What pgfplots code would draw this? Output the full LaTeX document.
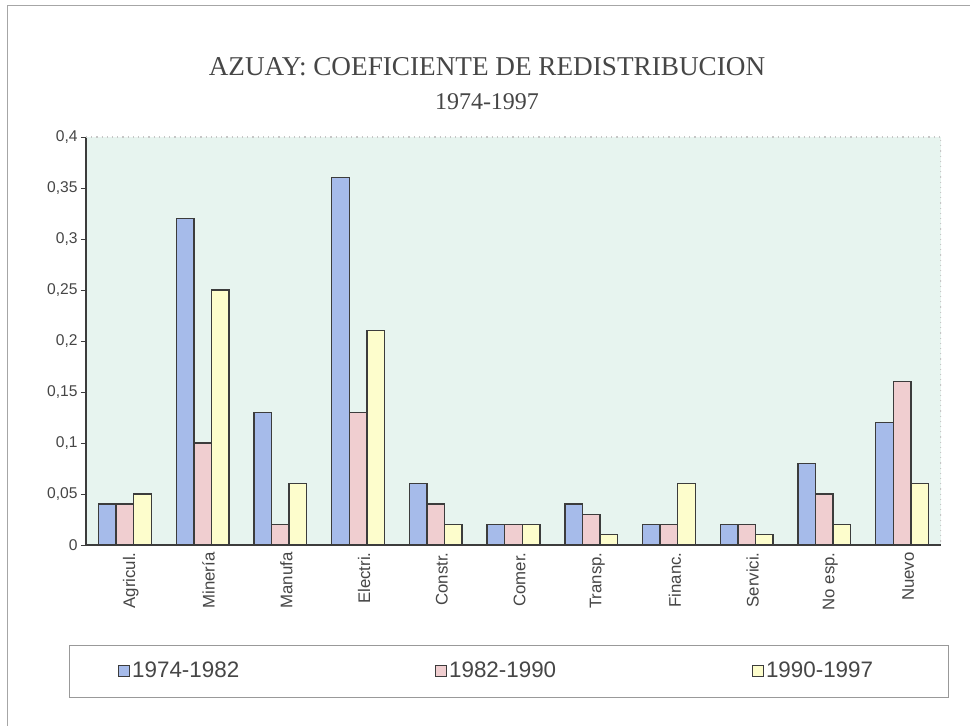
\documentclass[border=0pt]{standalone}
\usepackage{fontspec}
\setmainfont{Liberation Sans}
\newfontfamily\seriffont{Liberation Serif}
\usepackage{pgfplots}
\pgfplotsset{compat=1.18}
\definecolor{bgcol}{RGB}{231,244,239}
\definecolor{cblue}{RGB}{166,187,234}
\definecolor{cpink}{RGB}{240,206,208}
\definecolor{cyell}{RGB}{253,253,204}
\definecolor{edge}{RGB}{60,60,60}
\definecolor{txt}{RGB}{70,70,70}
\begin{document}
\begin{tikzpicture}
\useasboundingbox (-43pt,-90.5pt) rectangle (442pt,272.5pt);
\fill[white] (-43pt,-90.5pt) rectangle (442pt,272.5pt);
\draw[gray!70, line width=0.5pt] (-39pt,-95pt) -- (-39pt,269.5pt) -- (450pt,269.5pt);
\begin{axis}[
  at={(0pt,0pt)}, anchor=south west,
  scale only axis,
  width=427.5pt, height=204pt,
  ybar=0pt,
  bar width=0.226,
  xmin=-0.5, xmax=10.5,
  ymin=0, ymax=0.4,
  ytick={0,0.05,...,0.4},
  xtick={0,...,10},
  xticklabels={Agricul., Minería, Manufa, Electri., Constr., Comer., Transp., Financ., Servici., No esp., Nuevo},
  minor xtick={-0.5,0.5,...,10.5},
  axis x line*=bottom,
  axis y line*=left,
  axis line style={edge, line width=0.6pt, -},
  tick align=outside,
  major tick length=2.5pt,
  minor tick length=2.5pt,
  xtick style={draw=none},
  minor x tick style={edge, line width=0.4pt},
  ytick style={edge, line width=0.4pt},
  axis background/.style={fill=bgcol},
  /pgf/number format/.cd, use comma, fixed, assume math mode=true,
  /pgfplots/.cd,
  yticklabel style={font=\fontsize{7.8}{8.5}\selectfont, text=txt, inner sep=1pt, xshift=-0.5pt},
  xticklabel style={rotate=90, anchor=east, font=\fontsize{8.4}{9}\selectfont, text=txt, inner sep=1pt, yshift=-3pt},
  legend columns=3,
  legend image code/.code={\draw[#1, line width=0.5pt] (0pt,-2.7pt) rectangle (5.4pt,2.7pt);},
  legend style={draw=none, fill=none, at={(rel axis cs:0.0374,-0.309)}, anchor=west,
    font=\fontsize{11.2}{12}\selectfont, text=txt, inner sep=0pt,
    nodes={inner sep=1pt},
    /tikz/every even column/.append style={column sep=97pt}},
  every axis plot/.append style={draw=edge, line width=0.7pt},
]
\addplot[fill=cblue] coordinates {(0,0.04) (1,0.32) (2,0.13) (3,0.36) (4,0.06) (5,0.02) (6,0.04) (7,0.02) (8,0.02) (9,0.08) (10,0.12)};
\addplot[fill=cpink] coordinates {(0,0.04) (1,0.10) (2,0.02) (3,0.13) (4,0.04) (5,0.02) (6,0.03) (7,0.02) (8,0.02) (9,0.05) (10,0.16)};
\addplot[fill=cyell] coordinates {(0,0.05) (1,0.25) (2,0.06) (3,0.21) (4,0.02) (5,0.02) (6,0.01) (7,0.06) (8,0.01) (9,0.02) (10,0.06)};
\legend{1974-1982, 1982-1990, 1990-1997}
\draw[gray!45, dotted, line width=0.6pt] (rel axis cs:0,1) -- (rel axis cs:1,1) -- (rel axis cs:1,0);
\end{axis}
\draw[gray!80, line width=0.5pt] (-8pt,-50.5pt) rectangle (431pt,-76.5pt);
\node[text=txt, font=\seriffont\fontsize{13.6}{15}\selectfont] at (200.5pt,239pt) {AZUAY: COEFICIENTE DE REDISTRIBUCION};
\node[text=txt, font=\seriffont\fontsize{12}{14}\selectfont] at (200.5pt,221.5pt) {1974-1997};
\end{tikzpicture}
\end{document}
